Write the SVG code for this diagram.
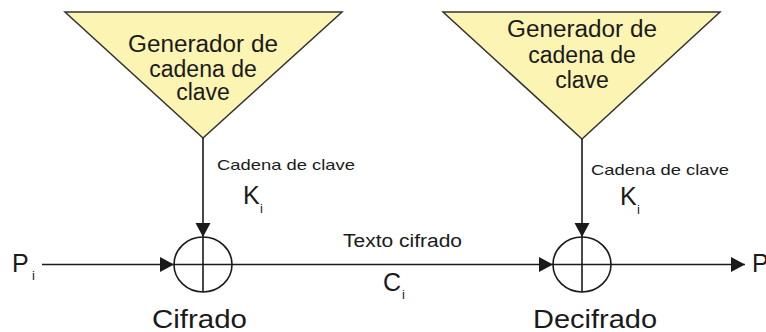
<svg xmlns="http://www.w3.org/2000/svg" width="766" height="332" viewBox="0 0 766 332">
<style>
text{font-family:"Liberation Sans",Arial,sans-serif;fill:#1a1a1a}
.tri{fill:#fcf4b2;stroke:#333;stroke-width:1.5}
.ln{stroke:#1a1a1a;stroke-width:1.6;fill:none}
.gen{font-size:23px;text-anchor:middle}
.lbl{font-size:15px}
.big{font-size:25px}
.sub{font-size:13px}
</style>
<defs>
<marker id="ah" markerUnits="userSpaceOnUse" markerWidth="15" markerHeight="16" refX="14" refY="7.5" orient="auto">
<path d="M0,0 L14,7.5 L0,15 z" fill="#1a1a1a"/>
</marker>
</defs>
<rect width="766" height="332" fill="#fff"/>
<g id="gen1">
<polygon class="tri" points="65,12 342,12 203,138"/>
<text class="gen" x="203" y="52" textLength="150" lengthAdjust="spacingAndGlyphs">Generador de</text>
<text class="gen" x="203" y="77">cadena de</text>
<text class="gen" x="203" y="100">clave</text>
</g>
<g id="gen2">
<polygon class="tri" points="443,12 720,12 582,139"/>
<text class="gen" x="582" y="37" textLength="150" lengthAdjust="spacingAndGlyphs">Generador de</text>
<text class="gen" x="582" y="63">cadena de</text>
<text class="gen" x="582" y="88">clave</text>
</g>
<g id="xor1">
<ellipse class="ln" cx="203" cy="264.5" rx="29" ry="27.5"/>
<line class="ln" x1="203" y1="237" x2="203" y2="292"/>
<line class="ln" x1="174" y1="264.5" x2="232" y2="264.5"/>
<text class="big" x="152" y="328" textLength="95" lengthAdjust="spacingAndGlyphs">Cifrado</text>
</g>
<g id="xor2">
<ellipse class="ln" cx="582" cy="264.5" rx="29" ry="27.5"/>
<line class="ln" x1="582" y1="237" x2="582" y2="292"/>
<line class="ln" x1="553" y1="264.5" x2="611" y2="264.5"/>
<text class="big" x="533" y="328" textLength="124" lengthAdjust="spacingAndGlyphs">Decifrado</text>
</g>
<g id="pin">
<text class="big" x="12" y="272">P</text>
<text class="sub" x="32" y="280">i</text>
</g>
<g id="pout">
<text class="big" x="752" y="272">P</text>
</g>
<g id="connectors">
<line class="ln" x1="203" y1="138" x2="203" y2="237" marker-end="url(#ah)"/>
<line class="ln" x1="582" y1="139" x2="582" y2="237" marker-end="url(#ah)"/>
<line class="ln" x1="42" y1="264.5" x2="174" y2="264.5" marker-end="url(#ah)"/>
<line class="ln" x1="232" y1="264.5" x2="553" y2="264.5" marker-end="url(#ah)"/>
<line class="ln" x1="611" y1="264.5" x2="745" y2="264.5" marker-end="url(#ah)"/>
<text class="lbl" x="217" y="170" textLength="138" lengthAdjust="spacingAndGlyphs">Cadena de clave</text>
<text class="big" x="243" y="204">K</text>
<text class="sub" x="260" y="213">i</text>
<text class="lbl" x="591" y="175" textLength="138" lengthAdjust="spacingAndGlyphs">Cadena de clave</text>
<text class="big" x="620" y="205">K</text>
<text class="sub" x="637" y="214">i</text>
<text x="343" y="247" font-size="18" textLength="119" lengthAdjust="spacingAndGlyphs">Texto cifrado</text>
<text class="big" x="383" y="291">C</text>
<text class="sub" x="402" y="299">i</text>
</g>
</svg>
